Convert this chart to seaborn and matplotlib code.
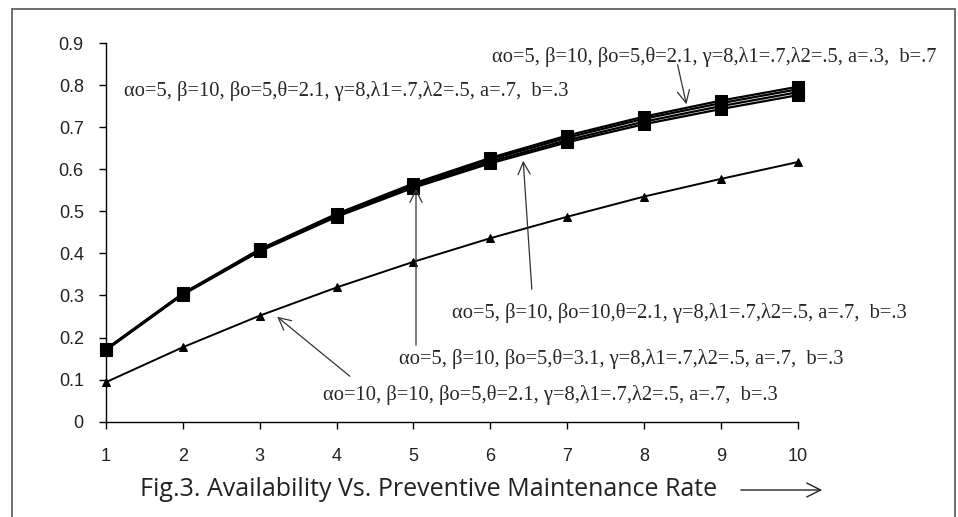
import matplotlib
matplotlib.use("Agg")
import matplotlib.pyplot as plt
import matplotlib.patches as mpatches
import pandas as pd
import seaborn as sns

# preventive maintenance rate
rate = [1, 2, 3, 4, 5, 6, 7, 8, 9, 10]

# availability for each parameter set
avail_ab37 = [0.173, 0.305, 0.410, 0.494, 0.566, 0.627, 0.680, 0.725, 0.763, 0.796]
avail_base = [0.172, 0.304, 0.409, 0.492, 0.563, 0.623, 0.675, 0.720, 0.757, 0.790]
avail_bo10 = [0.171, 0.303, 0.407, 0.489, 0.559, 0.618, 0.669, 0.713, 0.750, 0.783]
avail_th31 = [0.170, 0.302, 0.405, 0.487, 0.556, 0.614, 0.664, 0.707, 0.743, 0.776]
avail_ao10 = [0.094, 0.177, 0.252, 0.319, 0.380, 0.436, 0.487, 0.535, 0.577, 0.617]

lab_ab37 = "αο=5, β=10, βo=5,θ=2.1, γ=8,λ1=.7,λ2=.5, a=.3,  b=.7"
lab_base = "αο=5, β=10, βo=5,θ=2.1, γ=8,λ1=.7,λ2=.5, a=.7,  b=.3"
lab_bo10 = "αο=5, β=10, βo=10,θ=2.1, γ=8,λ1=.7,λ2=.5, a=.7,  b=.3"
lab_th31 = "αο=5, β=10, βo=5,θ=3.1, γ=8,λ1=.7,λ2=.5, a=.7,  b=.3"
lab_ao10 = "αο=10, β=10, βo=5,θ=2.1, γ=8,λ1=.7,λ2=.5, a=.7,  b=.3"

series = {
    lab_ab37: avail_ab37,
    lab_base: avail_base,
    lab_bo10: avail_bo10,
    lab_th31: avail_th31,
    lab_ao10: avail_ao10,
}
rows = []
for name, vals in series.items():
    for r, v in zip(rate, vals):
        rows.append({"rate": r, "availability": v, "case": name})
df = pd.DataFrame(rows)

sns.set_style("white")
plt.rcParams["font.family"] = ["Liberation Sans", "DejaVu Sans"]

fig = plt.figure(figsize=(9.58, 5.17), dpi=100)
ax = fig.add_axes([106 / 958, 1 - 421.7 / 517, (797.7 - 106) / 958, (421.7 - 43) / 517])

markers = {lab_ab37: "s", lab_base: "s", lab_bo10: "s", lab_th31: "s", lab_ao10: "^"}
sizes = {lab_ab37: 8, lab_base: 8, lab_bo10: 8, lab_th31: 8, lab_ao10: 6}
widths = {lab_ab37: 1.6, lab_base: 1.6, lab_bo10: 1.6, lab_th31: 1.6, lab_ao10: 1.4}

for name in series:
    sub = df[df["case"] == name]
    sns.lineplot(data=sub, x="rate", y="availability", ax=ax, color="black",
                 marker=markers[name], markersize=sizes[name], markeredgecolor="black",
                 linewidth=widths[name], legend=False)

ax.set_xlim(1, 10)
ax.set_ylim(0, 0.9)
ax.set_xticks(rate)
ax.set_yticks([i / 10 for i in range(10)])
ax.set_yticklabels(["0"] + [f"0.{i}" for i in range(1, 10)])
sns.despine(ax=ax)
ax.spines["left"].set_color("black")
ax.spines["bottom"].set_color("black")
ax.spines["left"].set_linewidth(1.0)
ax.spines["bottom"].set_linewidth(1.0)
ax.tick_params(axis="both", direction="out", length=5, width=1, color="black",
               labelsize=13, labelcolor="#222222", left=True, bottom=True)
ax.tick_params(axis="x", pad=14)
ax.tick_params(axis="y", pad=11)
ax.set_xlabel("")
ax.set_ylabel("")
for ln in ax.lines:
    ln.set_clip_on(False)

serif = ["Liberation Serif", "DejaVu Serif"]
tsize = 14.8
arrow = dict(arrowstyle="->", color="#333333", lw=0.9, mutation_scale=22)

ax.annotate(lab_base, xy=(0, 0), xycoords="figure fraction",
            xytext=(124 / 958, 1 - 91 / 517), textcoords="figure fraction",
            family=serif, fontsize=tsize, va="center", ha="left")
ax.annotate(lab_ab37, xy=(0, 0), xycoords="figure fraction",
            xytext=(492 / 958, 1 - 57 / 517), textcoords="figure fraction",
            family=serif, fontsize=tsize, va="center", ha="left")
ax.annotate("", xy=(687 / 958, 1 - 107 / 517), xycoords="figure fraction",
            xytext=(677 / 958, 1 - 62 / 517), textcoords="figure fraction",
            arrowprops=arrow)
ax.annotate(lab_bo10, xy=(0, 0), xycoords="figure fraction",
            xytext=(452 / 958, 1 - 313 / 517), textcoords="figure fraction",
            family=serif, fontsize=tsize, va="center", ha="left")
ax.annotate("", xy=(523 / 958, 1 - 158 / 517), xycoords="figure fraction",
            xytext=(532 / 958, 1 - 292 / 517), textcoords="figure fraction",
            arrowprops=arrow)
ax.annotate(lab_th31, xy=(0, 0), xycoords="figure fraction",
            xytext=(399 / 958, 1 - 359 / 517), textcoords="figure fraction",
            family=serif, fontsize=tsize, va="center", ha="left")
ax.annotate("", xy=(416 / 958, 1 - 186 / 517), xycoords="figure fraction",
            xytext=(416 / 958, 1 - 348 / 517), textcoords="figure fraction",
            arrowprops=arrow)
ax.annotate(lab_ao10, xy=(0, 0), xycoords="figure fraction",
            xytext=(323 / 958, 1 - 395 / 517), textcoords="figure fraction",
            family=serif, fontsize=tsize, va="center", ha="left")
ax.annotate("", xy=(275 / 958, 1 - 315 / 517), xycoords="figure fraction",
            xytext=(352 / 958, 1 - 378 / 517), textcoords="figure fraction",
            arrowprops=arrow)

# caption and arrow below the axis
fig.text(140 / 958, 1 - 490 / 517, "Fig.3. Availability Vs. Preventive Maintenance Rate",
         family=["Open Sans", "DejaVu Sans"], fontsize=18, color="#222222",
         va="center", ha="left")
fig.add_artist(mpatches.FancyArrowPatch((738 / 958, 1 - 490 / 517), (825 / 958, 1 - 490 / 517),
                                        transform=fig.transFigure, arrowstyle="->",
                                        mutation_scale=25, lw=1.0, color="#222222"))

# outer frame of the figure
fig.add_artist(mpatches.Rectangle((12 / 958, -0.1), (955 - 12) / 958, 1.1 - 9 / 517,
                                  transform=fig.transFigure, fill=False,
                                  edgecolor="#555555", lw=1.2))

fig.savefig("out.png", dpi=100)
plt.close(fig)
